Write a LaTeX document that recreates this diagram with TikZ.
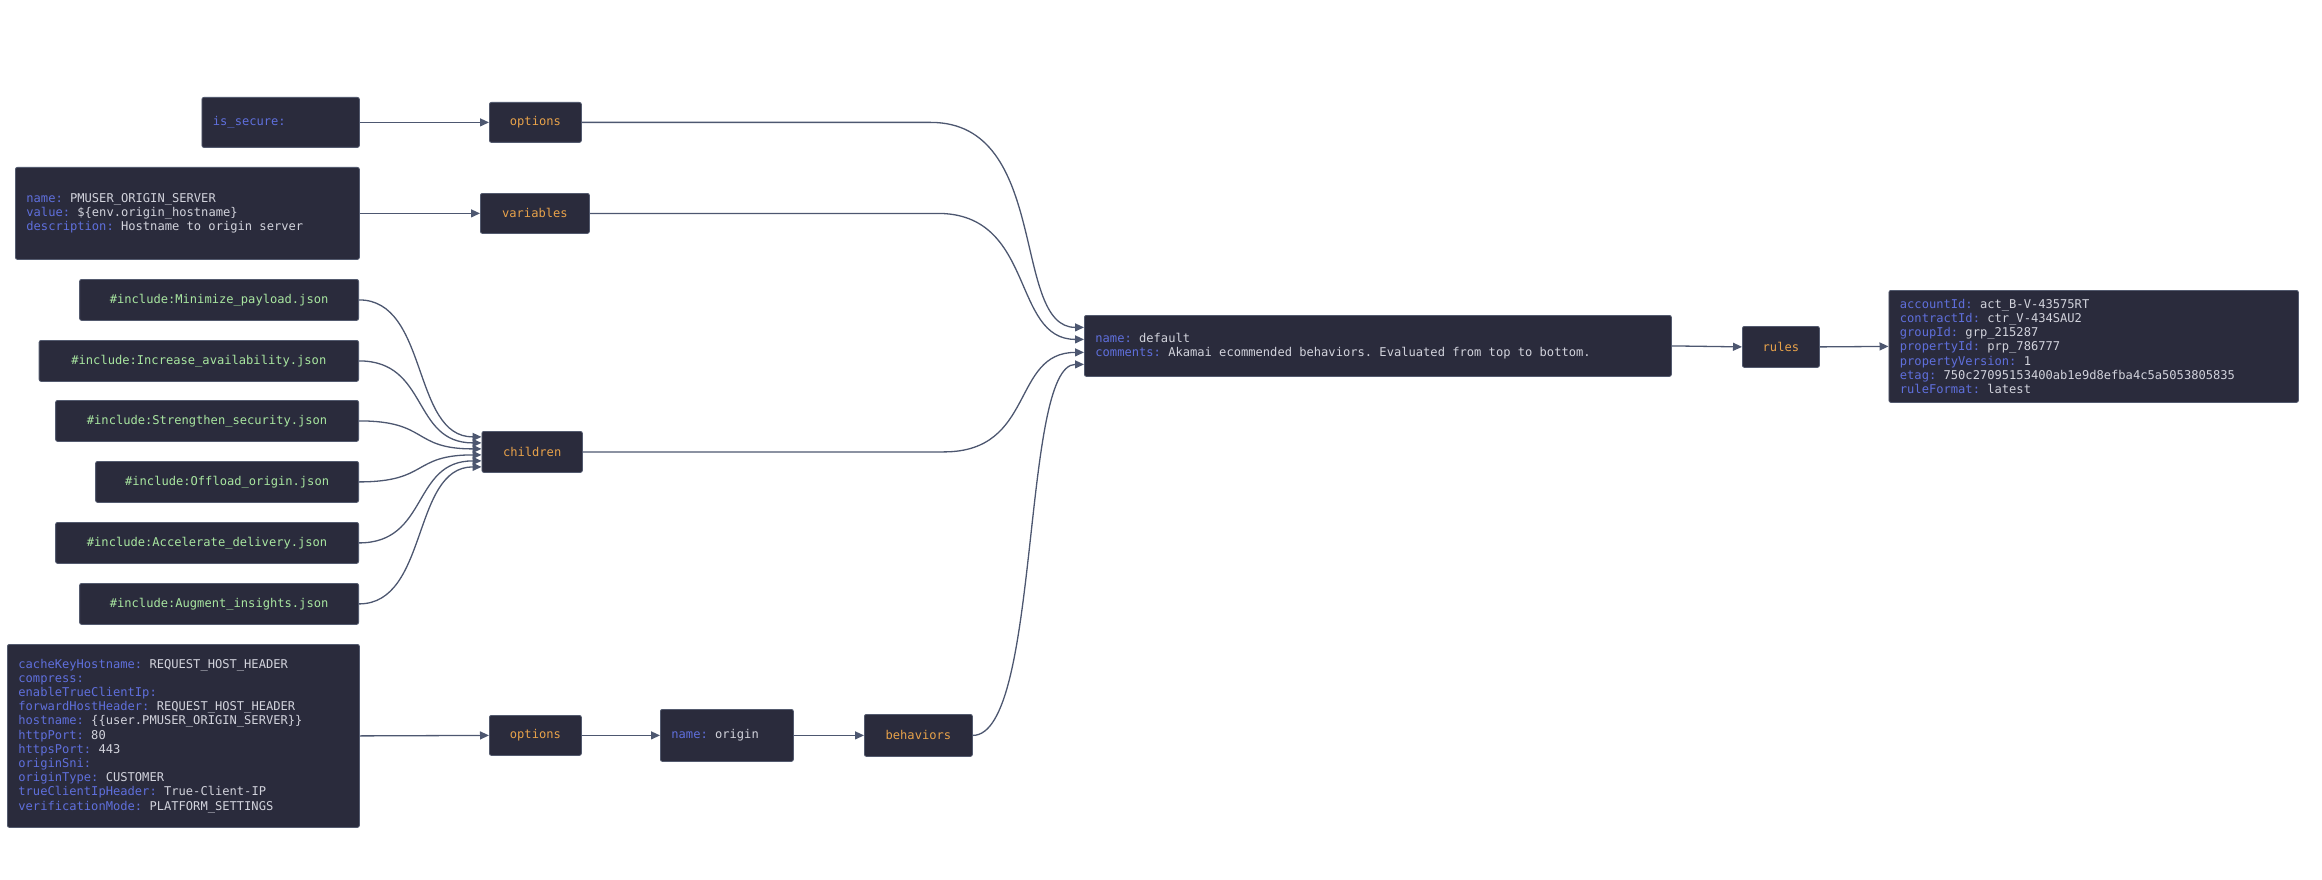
\documentclass[tikz,border=0pt]{standalone}
\usepackage{fontspec}
\setmonofont{DejaVu Sans Mono}
\usepackage{xcolor}
\usepackage{tikz}
\usetikzlibrary{positioning, arrows.meta}
\definecolor{cardbg}{HTML}{2A2B3C}
\definecolor{cardline}{HTML}{535A6E}
\definecolor{keyblue}{HTML}{5F6FDC}
\definecolor{valgrey}{HTML}{D2D3DC}
\definecolor{tagorange}{HTML}{E8A24A}
\definecolor{incgreen}{HTML}{A8E6A0}
\definecolor{wiregrey}{HTML}{4D5770}
\newcommand{\fixspace}{\frenchspacing\spaceskip=7.28pt\relax\xspaceskip=7.28pt\relax}
\newcommand{\fieldkv}[2]{\fixspace\textcolor{keyblue}{#1:} #2}

\tikzset{
  card/.style={fill=cardbg, draw=cardline, line width=0.8pt, rounded corners=2pt,
               font=\ttfamily\fontsize{12.1}{14.2}\selectfont, inner ysep=0pt, anchor=north west},
  field/.style={card, text=valgrey, align=left, inner xsep=11pt},
  tagbox/.style={card, text=tagorange, inner xsep=0pt, minimum height=40pt},
  incbox/.style={card, text=incgreen, inner xsep=0pt, anchor=north east, minimum height=41pt},
  wire/.style={draw=wiregrey, line width=1.3pt, -{Triangle[length=9pt,width=8pt]}}
}

\begin{document}
\begin{tikzpicture}[x=1pt, y=1pt]
  \useasboundingbox (0,0) rectangle (2322,-880);

  % top rows
  \node[field, text width=135.5pt, minimum height=50pt] (isSecure) at (201.5,-97) {\fieldkv{is\_secure}{}};
  \node[tagbox, minimum width=92pt] (optTop) at (489,-102) {options};
  \node[field, text width=322pt, minimum height=92pt] (pmuser) at (15,-167) {%
    \fieldkv{name}{PMUSER\_ORIGIN\_SERVER}\\
    \fieldkv{value}{\$\{env.origin\_hostname\}}\\
    \fieldkv{description}{Hostname to origin server}};
  \node[tagbox, minimum width=109pt] (vars) at (480,-193) {variables};

  % includes
  \node[incbox, minimum width=279pt] (incMin) at (359,-279) {\#include:Minimize\_payload.json};
  \node[incbox, minimum width=319.5pt] (incInc) at (359,-340) {\#include:Increase\_availability.json};
  \node[incbox, minimum width=303pt] (incStr) at (359,-400) {\#include:Strengthen\_security.json};
  \node[incbox, minimum width=263pt] (incOff) at (359,-461) {\#include:Offload\_origin.json};
  \node[incbox, minimum width=303pt] (incAcc) at (359,-522) {\#include:Accelerate\_delivery.json};
  \node[incbox, minimum width=279pt] (incAug) at (359,-583) {\#include:Augment\_insights.json};
  \node[tagbox, minimum width=100.5pt, minimum height=41pt] (children) at (481.5,-431) {children};

  % behaviors row
  \node[field, text width=330pt, minimum height=183pt] (cacheOpts) at (7,-644) {%
    \fieldkv{cacheKeyHostname}{REQUEST\_HOST\_HEADER}\\
    \fieldkv{compress}{}\\
    \fieldkv{enableTrueClientIp}{}\\
    \fieldkv{forwardHostHeader}{REQUEST\_HOST\_HEADER}\\
    \fieldkv{hostname}{\{\{user.PMUSER\_ORIGIN\_SERVER\}\}}\\
    \fieldkv{httpPort}{80}\\
    \fieldkv{httpsPort}{443}\\
    \fieldkv{originSni}{}\\
    \fieldkv{originType}{CUSTOMER}\\
    \fieldkv{trueClientIpHeader}{True-Client-IP}\\
    \fieldkv{verificationMode}{PLATFORM\_SETTINGS}};
  \node[tagbox, minimum width=92pt] (optBot) at (489,-715) {options};
  \node[field, text width=111pt, minimum height=52pt] (originName) at (660,-709) {\fieldkv{name}{origin}};
  \node[tagbox, minimum width=108pt, minimum height=42pt] (behaviors) at (864,-714) {behaviors};

  % right side
  \node[field, text width=565pt, minimum height=61pt] (dflt) at (1084,-315) {%
    \fieldkv{name}{default}\\
    \fieldkv{comments}{Akamai ecommended behaviors. Evaluated from top to bottom.}};
  \node[tagbox, minimum width=77pt, minimum height=41pt] (rules) at (1742,-326) {rules};
  \node[field, text width=387.5pt, minimum height=112pt] (account) at (1888.5,-290) {%
    \fieldkv{accountId}{act\_B-V-43575RT}\\
    \fieldkv{contractId}{ctr\_V-434SAU2}\\
    \fieldkv{groupId}{grp\_215287}\\
    \fieldkv{propertyId}{prp\_786777}\\
    \fieldkv{propertyVersion}{1}\\
    \fieldkv{etag}{750c27095153400ab1e9d8efba4c5a5053805835}\\
    \fieldkv{ruleFormat}{latest}};

  % connectors
  \draw[wire] (isSecure.east) -- (optTop.west);
  \draw[wire] (pmuser.east) -- (vars.west);
  \foreach \src/\dy in {incMin/15, incInc/9, incStr/3, incOff/-3, incAcc/-9, incAug/-15}
    \draw[wire] (\src.east) .. controls +(70,0) and +(-70,0) .. ([yshift=\dy pt]children.west);
  \draw[wire] (cacheOpts.east) -- (optBot.west);
  \draw[wire] (optBot.east) -- (originName.west);
  \draw[wire] (originName.east) -- (behaviors.west);

  \draw[wire] (optTop.east) -- ++(349,0) .. controls +(120,0) and +(-73,0) .. ([yshift=18.5pt]dflt.west);
  \draw[wire] (vars.east) -- ++(348,0) .. controls +(98,0) and +(-73,0) .. ([yshift=6.5pt]dflt.west);
  \draw[wire] (children.east) -- ++(361,0) .. controls +(92,0) and +(-73,0) .. ([yshift=-6.5pt]dflt.west);
  \draw[wire] (behaviors.east) .. controls +(68,0) and +(-63,0) .. ([yshift=-18.5pt]dflt.west);

  \draw[wire] (dflt.east) -- (rules.west);
  \draw[wire] (rules.east) -- (account.west);
\end{tikzpicture}
\end{document}
